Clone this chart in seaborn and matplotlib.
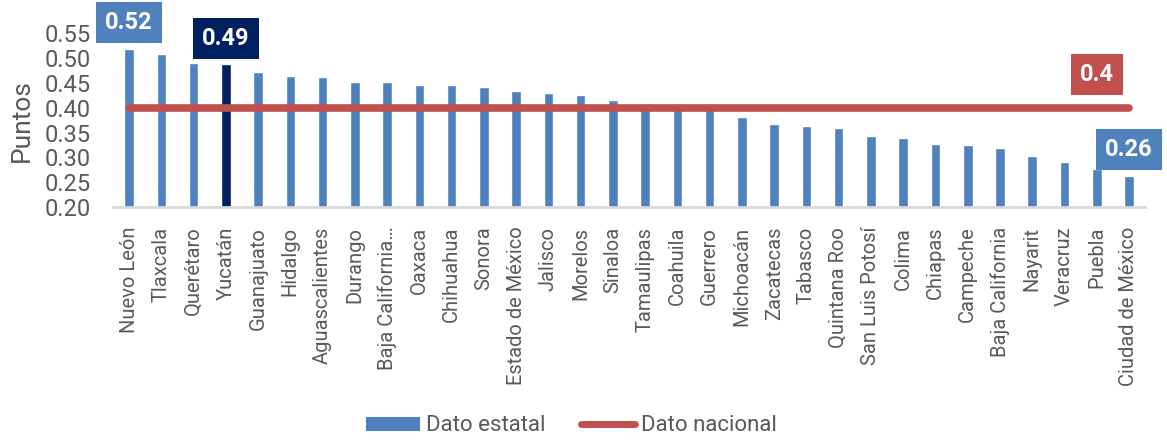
import matplotlib
matplotlib.use("Agg")
import matplotlib.pyplot as plt
import seaborn as sns
from matplotlib.patches import Patch
from matplotlib.lines import Line2D

# State scores (points), sorted from highest to lowest
estados = [
    "Nuevo León", "Tlaxcala", "Querétaro", "Yucatán", "Guanajuato", "Hidalgo",
    "Aguascalientes", "Durango", "Baja California…", "Oaxaca", "Chihuahua",
    "Sonora", "Estado de México", "Jalisco", "Morelos", "Sinaloa", "Tamaulipas",
    "Coahuila", "Guerrero", "Michoacán", "Zacatecas", "Tabasco", "Quintana Roo",
    "San Luis Potosí", "Colima", "Chiapas", "Campeche", "Baja California",
    "Nayarit", "Veracruz", "Puebla", "Ciudad de México",
]
dato_estatal = [
    0.517, 0.507, 0.490, 0.487, 0.471, 0.464, 0.462, 0.451, 0.451, 0.446, 0.446,
    0.441, 0.434, 0.429, 0.426, 0.415, 0.408, 0.403, 0.400, 0.381, 0.367, 0.364,
    0.360, 0.343, 0.339, 0.327, 0.326, 0.320, 0.304, 0.290, 0.277, 0.263,
]
dato_nacional = 0.40
destacado = "Yucatán"

AZUL = "#4F81BD"
MARINO = "#002060"
ROJO = "#C0504D"
GRIS = "#595959"

sns.set_theme(style="white")
plt.rcParams["font.family"] = ["Roboto", "DejaVu Sans"]

fig = plt.figure(figsize=(11.67, 4.41), dpi=100)
ax = fig.add_axes([0.0968, 0.530, 0.8844, 0.395])

colores = [MARINO if e == destacado else AZUL for e in estados]
sns.barplot(x=estados, y=dato_estatal, hue=estados, palette=colores,
            legend=False, width=0.3, ax=ax, saturation=1)

# National reference line spanning first to last state
n = len(estados)
ax.plot([0, n - 1], [dato_nacional, dato_nacional], color=ROJO, lw=5.5,
        solid_capstyle="round", zorder=3)

ax.set_ylim(0.20, 0.55)
ax.set_xlim(-0.5, n - 0.5)
ax.set_yticks([0.20, 0.25, 0.30, 0.35, 0.40, 0.45, 0.50, 0.55])
ax.set_yticklabels([f"{t:.2f}" for t in ax.get_yticks()], fontsize=17, color=GRIS)
ax.set_ylabel("Puntos", fontsize=19, color=GRIS, labelpad=8)
ax.tick_params(axis="x", rotation=90, labelsize=14.5, labelcolor=GRIS, length=0, pad=14)
ax.tick_params(axis="y", length=0, pad=16)
for lab in ax.get_xticklabels():
    lab.set_verticalalignment("top")

for s in ["top", "right", "left"]:
    ax.spines[s].set_visible(False)
ax.spines["bottom"].set_color("#D9D9D9")
ax.spines["bottom"].set_linewidth(2)
ax.grid(False)


def etiqueta(x, y, texto, color):
    ax.text(x, y, texto, ha="center", va="center", fontsize=17, fontweight="bold",
            color="white", clip_on=False, zorder=5,
            bbox=dict(boxstyle="square,pad=0.38", fc=color, ec="none"))


i_max = 0
i_dest = estados.index(destacado)
i_min = n - 1
etiqueta(i_max, dato_estatal[i_max] + 0.055, f"{dato_estatal[i_max]:.2f}", AZUL)
etiqueta(i_dest, dato_estatal[i_dest] + 0.053, f"{dato_estatal[i_dest]:.2f}", MARINO)
etiqueta(i_min, dato_estatal[i_min] + 0.054, f"{dato_estatal[i_min]:.2f}", AZUL)
etiqueta(n - 2.0, dato_nacional + 0.066, f"{dato_nacional:g}", ROJO)

handles = [
    Patch(facecolor=AZUL, edgecolor="none", label="Dato estatal"),
    Line2D([0], [0], color=ROJO, lw=5, solid_capstyle="round", label="Dato nacional"),
]
leg = fig.legend(handles=handles, loc="lower center", bbox_to_anchor=(0.49, -0.035),
                 ncol=2, frameon=False, fontsize=16, handlelength=2.4,
                 handleheight=0.6, columnspacing=1.6, handletextpad=0.3)
for t in leg.get_texts():
    t.set_color(GRIS)

fig.savefig("out.png", dpi=100)
